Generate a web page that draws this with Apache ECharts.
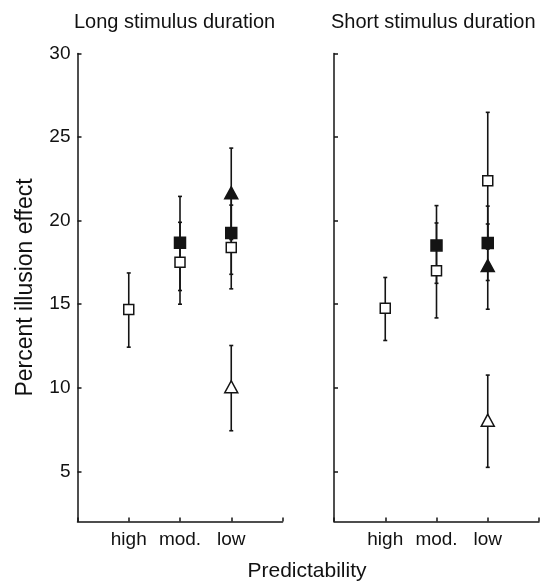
<!DOCTYPE html>
<html><head><meta charset="utf-8">
<script src="https://cdn.jsdelivr.net/npm/echarts@6/dist/echarts.min.js"></script>
<style>html,body{margin:0;padding:0;background:#fff}#c{width:546px;height:585px}</style>
</head><body><div id="c"></div>
<script>
const categories = ['high', 'mod.', 'low'];
const panelTitles = ['Long stimulus duration', 'Short stimulus duration'];
const xAxisTitle = 'Predictability';
const yAxisTitle = 'Percent illusion effect';
const yTicks = [5, 10, 15, 20, 25, 30];

// Long stimulus duration
const longOpenSquare      = [14.68, 17.51, 18.40];
const longOpenSquareLow   = [12.43, 15.00, 15.92];
const longOpenSquareHigh  = [16.87, 19.90, 20.93];
const longFilledSquare     = [null, 18.68, 19.26];
const longFilledSquareLow  = [null, 15.82, 16.79];
const longFilledSquareHigh = [null, 21.45, 21.73];
const longFilledTri     = [null, null, 21.66];
const longFilledTriLow  = [null, null, 18.87];
const longFilledTriHigh = [null, null, 24.34];
const longOpenTri     = [null, null, 10.06];
const longOpenTriLow  = [null, null, 7.43];
const longOpenTriHigh = [null, null, 12.53];

// Short stimulus duration
const shortOpenSquare      = [14.76, 17.00, 22.39];
const shortOpenSquareLow   = [12.83, 14.18, 18.30];
const shortOpenSquareHigh  = [16.60, 19.86, 26.48];
const shortFilledSquare     = [null, 18.52, 18.66];
const shortFilledSquareLow  = [null, 16.25, 16.42];
const shortFilledSquareHigh = [null, 20.90, 20.87];
const shortFilledTri     = [null, null, 17.31];
const shortFilledTriLow  = [null, null, 14.70];
const shortFilledTriHigh = [null, null, 19.80];
const shortOpenTri     = [null, null, 8.06];
const shortOpenTriLow  = [null, null, 5.24];
const shortOpenTriHigh = [null, null, 10.76];

const INK = '#141414';
const FONT = "'Liberation Sans', Arial, Helvetica, sans-serif";

const markerStyles = {
  openSquare:   { symbol: 'rect', size: 10, fill: '#ffffff' },
  filledSquare: { symbol: 'rect', size: 11, fill: INK },
  filledTri:    { symbol: 'triangle', size: [13, 12], fill: INK },
  openTri:      { symbol: 'triangle', size: [13, 12], fill: '#ffffff' }
};

const panels = [
  { groups: [
    ['openSquare', longOpenSquare, longOpenSquareLow, longOpenSquareHigh],
    ['filledSquare', longFilledSquare, longFilledSquareLow, longFilledSquareHigh],
    ['filledTri', longFilledTri, longFilledTriLow, longFilledTriHigh],
    ['openTri', longOpenTri, longOpenTriLow, longOpenTriHigh]
  ]},
  { groups: [
    ['openSquare', shortOpenSquare, shortOpenSquareLow, shortOpenSquareHigh],
    ['filledSquare', shortFilledSquare, shortFilledSquareLow, shortFilledSquareHigh],
    ['filledTri', shortFilledTri, shortFilledTriLow, shortFilledTriHigh],
    ['openTri', shortOpenTri, shortOpenTriLow, shortOpenTriHigh]
  ]}
];

function errorRender(params, api) {
  const x = api.value(0), lo = api.value(1), hi = api.value(2);
  const p1 = api.coord([x, hi]);
  const p2 = api.coord([x, lo]);
  const cw = 2;
  const st = { stroke: INK, lineWidth: 1.6 };
  return {
    type: 'group',
    children: [
      { type: 'line', shape: { x1: p1[0], y1: p1[1], x2: p2[0], y2: p2[1] }, style: st },
      { type: 'line', shape: { x1: p1[0] - cw, y1: p1[1], x2: p1[0] + cw, y2: p1[1] }, style: st },
      { type: 'line', shape: { x1: p2[0] - cw, y1: p2[1], x2: p2[0] + cw, y2: p2[1] }, style: st }
    ]
  };
}

const series = [];
panels.forEach((panel, pi) => {
  panel.groups.forEach(([kind, vals, lows, highs]) => {
    const errData = [];
    vals.forEach((v, i) => {
      if (v == null) return;
      errData.push([i + 1, lows[i], highs[i]]);
    });
    series.push({
      type: 'custom', xAxisIndex: pi, yAxisIndex: pi, z: 2,
      renderItem: errorRender, data: errData, silent: true,
      encode: { x: 0, y: [1, 2] }
    });
  });
  panel.groups.forEach(([kind, vals]) => {
    const ptData = [];
    vals.forEach((v, i) => { if (v != null) ptData.push([i + 1, v]); });
    const m = markerStyles[kind];
    series.push({
      type: 'scatter', xAxisIndex: pi, yAxisIndex: pi, z: 5,
      symbol: m.symbol, symbolSize: m.size, data: ptData,
      itemStyle: { color: m.fill, borderColor: INK, borderWidth: 1.5, opacity: 1 },
      silent: true
    });
  });
});

const grids = [
  { left: 77.5, top: 53.5, width: 205, height: 468 },
  { left: 334, top: 53.5, width: 205, height: 468 }
];

const xAxes = grids.map((g, i) => ({
  type: 'value', gridIndex: i, min: 0, max: 4, interval: 1,
  axisLine: { show: true, onZero: false, lineStyle: { color: INK, width: 1.5 } },
  axisTick: { show: true, inside: true, length: 4, lineStyle: { color: INK, width: 1.5 } },
  axisLabel: {
    fontFamily: FONT, fontSize: 19, color: '#111', margin: 9,
    formatter: v => categories[v - 1] || ''
  },
  splitLine: { show: false }
}));

const yAxes = grids.map((g, i) => ({
  type: 'value', gridIndex: i, min: 2, max: 30,
  axisLine: { show: true, lineStyle: { color: INK, width: 1.5 } },
  axisTick: { show: true, inside: true, length: 4, customValues: yTicks, lineStyle: { color: INK, width: 1.5 } },
  axisLabel: { show: i === 0, customValues: yTicks, fontFamily: FONT, fontSize: 19, color: '#111', margin: 7 },
  splitLine: { show: false },
  name: i === 0 ? yAxisTitle : '',
  nameLocation: 'middle', nameGap: 40,
  nameTextStyle: { fontFamily: FONT, fontSize: 23, color: '#111' }
}));

const chart = echarts.init(document.getElementById('c'), null, { renderer: 'canvas' });
chart.setOption({
  animation: false,
  backgroundColor: '#ffffff',
  grid: grids,
  xAxis: xAxes,
  yAxis: yAxes,
  graphic: [
    { type: 'text', x: 74, y: 22, style: { text: panelTitles[0], font: '20px ' + FONT, fill: '#111', textVerticalAlign: 'middle' } },
    { type: 'text', x: 331, y: 22, style: { text: panelTitles[1], font: '20px ' + FONT, fill: '#111', textVerticalAlign: 'middle' } },
    { type: 'text', x: 307, y: 571, style: { text: xAxisTitle, font: '21px ' + FONT, fill: '#111', textAlign: 'center', textVerticalAlign: 'middle' } }
  ],
  series: series
});
</script>
</body></html>
